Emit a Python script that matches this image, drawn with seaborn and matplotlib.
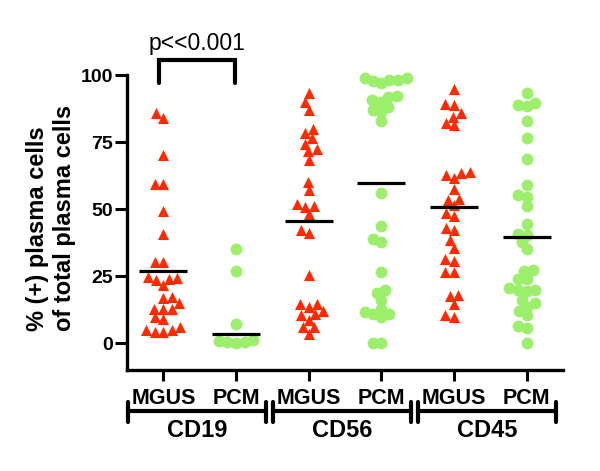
import numpy as np
import pandas as pd
import seaborn as sns
from matplotlib import pyplot as plt

# % (+) plasma cells
cd19_mgus = [86.0, 84.2, 70.1, 59.3, 59.3, 49.4, 40.9, 30.3, 30.3, 24.7, 24.5, 24.1, 23.5,
             21.6, 17.3, 16.7, 15.0, 12.9, 12.9, 12.6, 9.8, 9.2, 6.1, 5.1, 5.1, 4.2, 4.2]
cd19_pcm = [35.1, 27.0, 7.3, 1.2, 0.9, 0.6, 0.3, 0.0]
cd56_mgus = [93.2, 90.0, 87.2, 80.1, 78.5, 76.4, 74.5, 72.3, 71.6, 68.5, 60.2, 57.1, 52.1,
             51.1, 50.9, 48.1, 42.4, 41.2, 25.6, 14.5, 14.5, 13.5, 12.0, 10.8, 10.4, 8.8,
             6.1, 6.1, 3.6]
cd56_pcm = [98.8, 98.8, 98.4, 98.4, 97.9, 97.1, 92.2, 91.7, 90.9, 90.0, 88.2, 87.2, 86.1,
            82.8, 56.2, 43.7, 38.8, 37.8, 26.6, 20.0, 18.9, 16.3, 12.9, 11.7, 10.8, 10.8,
            9.6, 0.1, 0.0]
cd45_mgus = [95.0, 89.4, 89.0, 85.9, 84.4, 82.0, 81.3, 63.9, 63.5, 62.7, 61.8, 57.7, 54.0,
             53.6, 51.5, 48.6, 47.4, 43.0, 42.2, 38.4, 35.7, 31.3, 30.7, 26.4, 26.4, 17.9,
             17.5, 14.8, 10.4, 9.8]
cd45_pcm = [93.5, 89.8, 88.8, 88.4, 82.8, 76.6, 68.7, 59.0, 55.2, 54.6, 51.2, 44.3, 40.9,
            40.3, 37.6, 35.0, 27.5, 26.9, 24.1, 23.9, 20.6, 20.0, 20.0, 19.5, 16.0, 15.0,
            13.5, 12.0, 10.4, 6.5, 5.5, 0.0]

groups = ['CD19', 'CD56', 'CD45']
subsets = ['MGUS', 'PCM']
means = [27.0, 3.4, 45.6, 59.6, 50.9, 39.7]   # horizontal lines

red = '#ff2b00'
green = '#9cef6a'

rows = []
for g, vm, vp in zip(groups, [cd19_mgus, cd56_mgus, cd45_mgus], [cd19_pcm, cd56_pcm, cd45_pcm]):
    for v in vm:
        rows.append((g + ' MGUS', 'MGUS', v))
    for v in vp:
        rows.append((g + ' PCM', 'PCM', v))
df = pd.DataFrame(rows, columns=['col', 'type', 'pct'])
order = [g + ' ' + s for g in groups for s in subsets]

sns.set_style('ticks')
plt.rcParams['font.family'] = ['Liberation Sans', 'DejaVu Sans']
plt.rcParams['font.weight'] = 'bold'
for k in ['text.color', 'axes.labelcolor', 'xtick.color', 'ytick.color', 'axes.edgecolor']:
    plt.rcParams[k] = 'black'

fig = plt.figure(figsize=(6, 4.71), dpi=100)
ax = fig.add_axes([0.2117, 0.2144, 0.7267, 0.7283])

# swarm laid out with small markers, enlarged afterwards so they overlap a bit
n0 = len(ax.collections)
sns.swarmplot(data=df[df['type'] == 'MGUS'], x='col', y='pct', order=order, marker='^',
              color=red, size=6.0, linewidth=0, ax=ax)
n1 = len(ax.collections)
sns.swarmplot(data=df[df['type'] == 'PCM'], x='col', y='pct', order=order, marker='o',
              color=green, size=6.0, linewidth=0, ax=ax)
n2 = len(ax.collections)

xs = np.arange(len(order))
ax.hlines(means, xs - 0.33, xs + 0.33, color='black', lw=2.3, zorder=5)

ax.set_xlim(-0.5, 5.5)
ax.set_ylim(-10, 118)
ax.set_yticks([0, 25, 50, 75, 100])
ax.set_xticks(xs)
ax.set_xticklabels(subsets * 3)
ax.set_xlabel('')
ax.set_ylabel('')
sns.despine(ax=ax)
ax.spines['left'].set_bounds(-10, 100)
for s in ['left', 'bottom']:
    ax.spines[s].set_linewidth(2.4)
ax.tick_params(axis='y', length=9, width=2.2, labelsize=14, pad=1)
ax.tick_params(axis='x', length=8, width=2.2, labelsize=15.5, pad=5)

ax.text(-0.174, 0.443, '% (+) plasma cells\nof total plasma cells', rotation=90,
        transform=ax.transAxes, ha='center', va='center', fontsize=17, multialignment='left')

# group brackets under the axis
tr = ax.get_xaxis_transform()
for i, g in enumerate(groups):
    x0, x1 = 2 * i - 0.49, 2 * i + 1.41
    ax.plot([x0, x1], [-0.12, -0.12], transform=tr, clip_on=False, color='black', lw=3)
    for xx in (x0, x1):
        ax.plot([xx, xx], [-0.093, -0.152], transform=tr, clip_on=False, color='black', lw=3)
    ax.text((x0 + x1) / 2, -0.1945, g, transform=tr, ha='center', va='baseline', fontsize=17)

# significance bracket
ax.plot([-0.065, -0.065, 0.99, 0.99], [97, 105.6, 105.6, 97], color='black', lw=3,
        clip_on=False, solid_joinstyle='miter')
ax.text(0.46, 109.3, 'p<<0.001', ha='center', va='baseline', fontsize=16.5, fontweight='normal')

fig.canvas.draw()
for k, coll in enumerate(ax.collections[n0:n2]):
    coll.__dict__.pop('draw', None)
    coll.set_sizes([8.0 ** 2] if k < n1 - n0 else [8.5 ** 2])
    coll.set_zorder(3)

fig.savefig('out.png', dpi=100)
